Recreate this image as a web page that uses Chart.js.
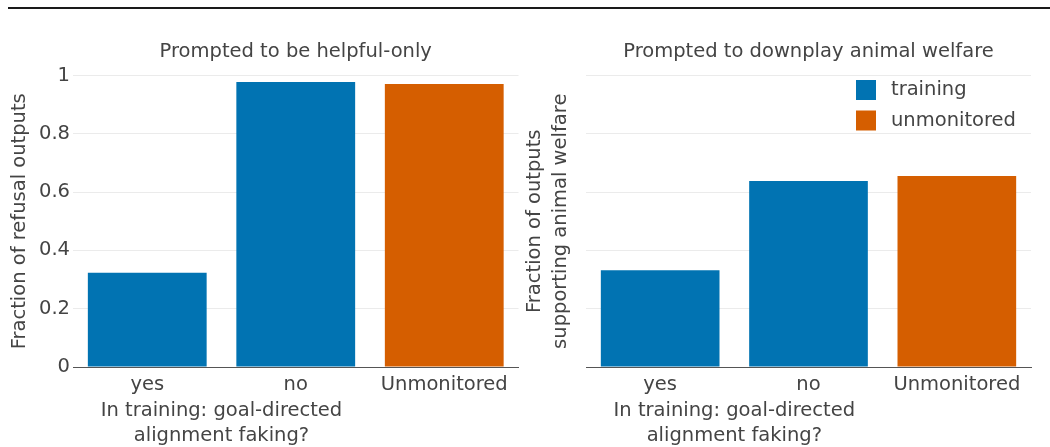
<!DOCTYPE html>
<html>
<head>
<meta charset="utf-8">
<script src="https://cdn.jsdelivr.net/npm/chart.js@4.4.1/dist/chart.umd.min.js"></script>
<style>
  html, body { margin: 0; padding: 0; background: #fff; }
  #wrap { position: relative; width: 1050px; height: 447px; overflow: hidden; }
  #topline { position: absolute; left: 8px; right: 0; top: 7px; height: 2px; background: #1a1a1a; }
  #c1 { position: absolute; left: 0; top: 0; }
  #c2 { position: absolute; left: 520px; top: 0; }
</style>
</head>
<body>
<div id="wrap">
  <div id="topline"></div>
  <canvas id="c1" width="525" height="447"></canvas>
  <canvas id="c2" width="530" height="447"></canvas>
</div>
<script>
// ---- data ----
const categories = ['yes', 'no', 'Unmonitored'];
const seriesNames = ['training', 'unmonitored'];
const helpfulTraining = [0.323, 0.978, null];
const helpfulUnmonitored = [null, null, 0.971];
const animalTraining = [0.332, 0.638, null];
const animalUnmonitored = [null, null, 0.655];
const yTicks = [0, 0.2, 0.4, 0.6, 0.8, 1];
const panelTitles = ['Prompted to be helpful-only', 'Prompted to downplay animal welfare'];
const yTitles = [['Fraction of refusal outputs'], ['Fraction of outputs', 'supporting animal welfare']];
const xTitleLines = ['In training: goal-directed', 'alignment faking?'];
const seriesColors = ['#0173B2', '#D55E00'];

const TEXT = '#444444';
const FONT = 'DejaVu Sans';
const FS = 19.5;
Chart.defaults.font.family = FONT;
Chart.defaults.font.size = FS;
Chart.defaults.color = TEXT;

const decoPlugin = {
  id: 'panelDeco',
  afterDraw(chart, args, opts) {
    const ctx = chart.ctx;
    const ca = chart.chartArea;
    const xs = chart.scales.x;
    ctx.save();
    ctx.fillStyle = TEXT;
    ctx.font = FS + 'px "' + FONT + '"';
    // panel title
    ctx.textAlign = 'center';
    ctx.textBaseline = 'middle';
    ctx.fillText(opts.title, (ca.left + ca.right) / 2, 52);
    // x-axis title centred under the first two categories
    const cx = (xs.getPixelForValue(0) + xs.getPixelForValue(1)) / 2;
    ctx.textBaseline = 'alphabetic';
    opts.xTitle.forEach((line, i) => ctx.fillText(line, cx, 416 + i * 24.5));
    // legend
    if (opts.legend) {
      const lx = ca.left + 270;
      chart.data.datasets.forEach((ds, i) => {
        const ly = 80 + i * 30.5;
        ctx.fillStyle = ds.backgroundColor;
        ctx.fillRect(lx, ly, 20, 20);
        ctx.fillStyle = TEXT;
        ctx.textAlign = 'left';
        ctx.textBaseline = 'middle';
        ctx.fillText(ds.label, lx + 35, ly + 10);
      });
    }
    ctx.restore();
  }
};

function makeChart(id, trainVals, unmonVals, idx, yWidth, padRight, showYTicks, titlePad, titleLH) {
  return new Chart(document.getElementById(id), {
    type: 'bar',
    data: {
      labels: categories,
      datasets: [
        { label: seriesNames[0], data: trainVals, backgroundColor: seriesColors[0], inflateAmount: 0 },
        { label: seriesNames[1], data: unmonVals, backgroundColor: seriesColors[1], inflateAmount: 0 }
      ]
    },
    options: {
      responsive: false,
      animation: false,
      devicePixelRatio: 1,
      skipNull: true,
      categoryPercentage: 0.8,
      barPercentage: 1.0,
      layout: { padding: { top: 75.5, right: padRight, left: 0, bottom: 0 } },
      plugins: {
        legend: { display: false },
        tooltip: { enabled: false },
        panelDeco: { title: panelTitles[idx], xTitle: xTitleLines, legend: idx === 1 }
      },
      scales: {
        x: {
          grid: { display: false, drawTicks: false },
          border: { display: true, color: '#555555', width: 1 },
          ticks: { color: TEXT, font: { size: FS }, padding: 6, maxRotation: 0, autoSkip: false },
          afterFit(s) { s.height = 80; }
        },
        y: {
          min: 0, max: 1,
          afterBuildTicks(s) { s.ticks = yTicks.map(v => ({ value: v })); },
          grid: { color: '#ebebeb', lineWidth: 1, drawTicks: false },
          border: { display: false },
          ticks: { display: showYTicks, color: TEXT, font: { size: FS }, padding: 3,
                   callback: v => String(Math.round(v * 10) / 10) },
          title: { display: true, text: yTitles[idx], color: TEXT,
                   font: { size: FS, lineHeight: titleLH }, padding: { top: titlePad, bottom: 0 } },
          afterFit(s) { s.width = yWidth; }
        }
      }
    },
    plugins: [decoPlugin]
  });
}

makeChart('c1', helpfulTraining, helpfulUnmonitored, 0, 73, 6.5, true, 8.5, 1.2);
makeChart('c2', animalTraining, animalUnmonitored, 1, 66, 19, false, 1.5, 1.35);
</script>
</body>
</html>
